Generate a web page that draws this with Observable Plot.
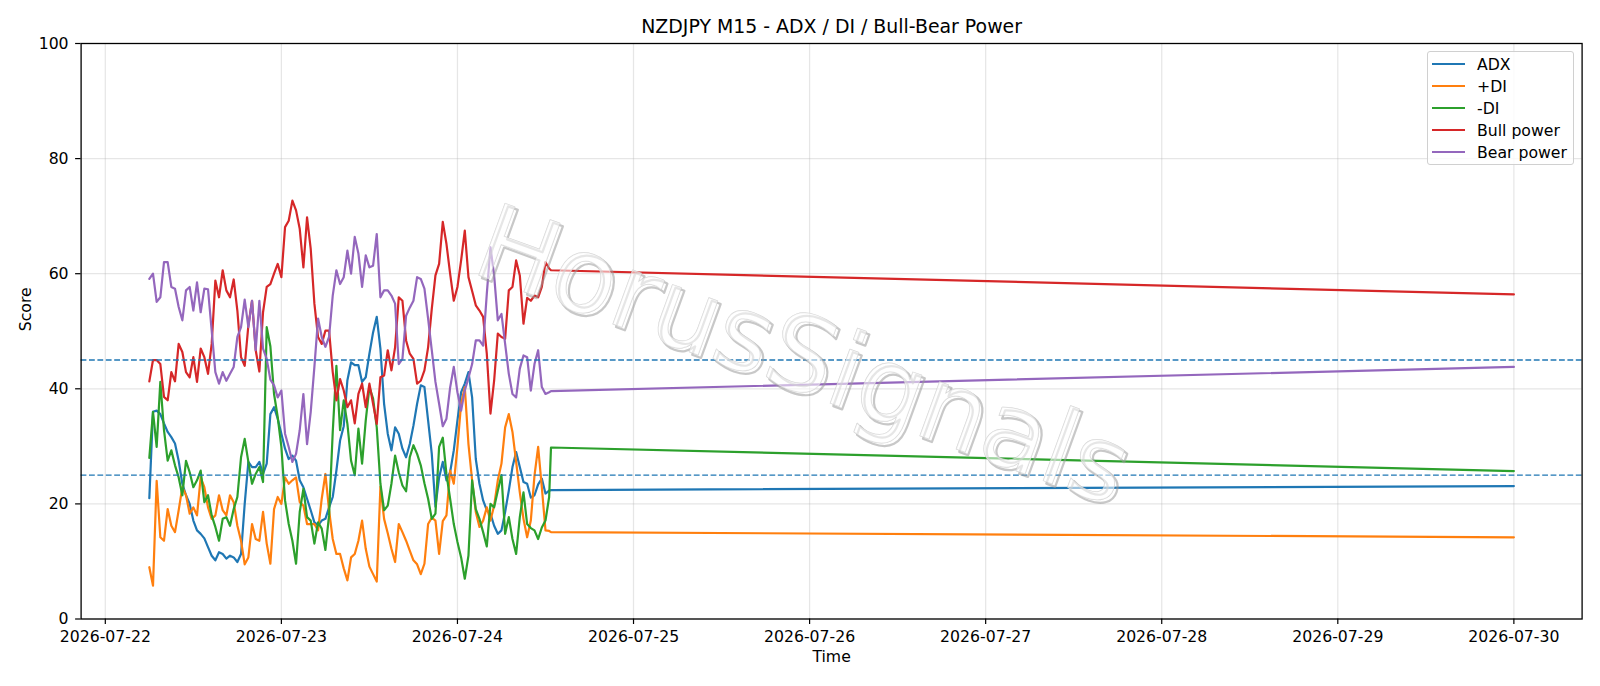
<!DOCTYPE html>
<html>
<head>
<meta charset="utf-8">
<script src="https://cdn.jsdelivr.net/npm/d3@7"></script>
<script src="https://cdn.jsdelivr.net/npm/@observablehq/plot@0.6"></script>
<style>
  body { margin: 0; background: #fff; }
  #wrap { position: relative; width: 1600px; height: 686px; font-family: "DejaVu Sans", sans-serif; }
  #legend { position: absolute; left: 1427px; top: 51px; width: 147px; height: 114px;
    border: 1px solid #d0d0d0; border-radius: 3px; background: rgba(255,255,255,0.8); box-sizing: border-box; }
  .lg-row { position: absolute; left: 0; height: 20px; display: flex; align-items: center; font-size: 15.7px; color: #000; }
  .lg-sw { width: 33px; height: 0; border-top: 2px solid; margin-left: 4px; margin-right: 12px; }
</style>
</head>
<body>
<div id="wrap"></div>
<script>
// ---- Data ----
const title = "NZDJPY M15 - ADX / DI / Bull-Bear Power";
const seriesNames = ["ADX", "+DI", "-DI", "Bull power", "Bear power"];
const seriesColors = ["#1f77b4", "#ff7f0e", "#2ca02c", "#d62728", "#9467bd"];
const levels = [45, 25];
const yTicks = [0, 20, 40, 60, 80, 100];
const xTickDays = ["2026-07-22","2026-07-23","2026-07-24","2026-07-25","2026-07-26","2026-07-27","2026-07-28","2026-07-29","2026-07-30"];

// sampling: every 30 minutes from 2026-07-22 06:00 to 2026-07-24 12:30, then two projected points
const denseStart = "2026-07-22T06:00:00Z";
const denseCount = 110;
const tailTimes = ["2026-07-24T12:45:00Z", "2026-07-30T00:00:00Z"];

const adx = [
  21, 36, 36.2, 35.6, 34, 32.5, 31.6, 30.5, 27.5, 23.5,
  21.5, 20, 17.1, 15.4, 14.8, 14, 12.5, 11, 10.2, 11.6,
  11.3, 10.5, 11, 10.7, 9.9, 11.3, 20, 27.3, 26.4, 26.4,
  27.3, 25.2, 27, 35.6, 36.8, 34.8, 32.2, 29.6, 27.8, 28.4,
  27.5, 24.1, 22.9, 20.9, 18.9, 16.8, 16.3, 17.1, 17.4, 19.4,
  21.2, 25.8, 31, 33.5, 41.5, 44.6, 44.1, 44.1, 41.2, 42,
  46.1, 49.8, 52.5, 47, 37.4, 32.2, 29.3, 33.3, 32.2, 29.6,
  28.1, 30.4, 33.6, 37.4, 40.6, 40.3, 34.5, 28.7, 19.5, 24.6,
  27.3, 24.1, 25.5, 29.3, 34.5, 39.4, 40.9, 42.9, 38.5, 27.8,
  23.5, 20.6, 18.9, 18.3, 16.2, 14.8, 15.4, 18.6, 22.3, 26.4,
  29, 26.4, 23.8, 23.5, 21.1, 21.5, 23.4, 24.4, 21.8, 22.3,
  22.4, 23.1
];
const plusDI = [
  9, 5.8, 24, 14.2, 13.6, 19.1, 16.2, 15.1, 18.9, 22.9,
  21.5, 18.3, 19.4, 18, 24.6, 22.9, 19.4, 17.4, 18, 21.5,
  18.9, 18, 21.5, 20.3, 16.2, 13.6, 9.5, 10.7, 16.5, 13.9,
  13.6, 18.6, 13.1, 9.6, 19.1, 21.2, 20, 24.6, 23.5, 24.1,
  24.6, 20.3, 19.7, 16.5, 16.5, 16.5, 15.4, 20.9, 25.2, 18.9,
  13.9, 11.3, 11.3, 8.8, 6.7, 10.7, 11.3, 13.6, 17.1, 12.2,
  9.1, 7.8, 6.5, 23, 17.4, 14.9, 12.2, 9.9, 16.5, 15.1,
  13.6, 11.9, 10.2, 9.5, 7.8, 9.6, 16.5, 17.6, 17.1, 11.3,
  17, 18, 25.8, 23.5, 29.9, 37.4, 40.3, 30.4, 24.1, 18.6,
  16, 17.1, 19.4, 17.1, 19.7, 24.1, 27, 33.3, 35.6, 32.5,
  27.3, 22, 17.4, 14.2, 17.1, 24.9, 29.9, 22.9, 15.4, 15.3,
  15.1, 14.2
];
const minusDI = [
  28, 36, 29.9, 41.2, 32.8, 27.5, 29.3, 26.7, 24.6, 21.5,
  27.5, 25.5, 22.9, 24.1, 25.8, 20.3, 21.5, 18, 16, 13.6,
  17.4, 17.7, 16.2, 19.1, 21.2, 28.1, 31.3, 27.3, 23.5, 25.2,
  26.4, 23.8, 50.7, 47.4, 39.1, 35.1, 29.9, 20.6, 16.5, 13.6,
  9.6, 18.6, 22.6, 17.7, 17.1, 13.1, 16.8, 15.7, 12, 18,
  32.5, 44, 32.8, 38, 33.9, 27.5, 25, 33.1, 27, 34.5,
  40.3, 38.3, 33.3, 23.5, 18.9, 19.7, 23.5, 28.4, 25.5, 23.2,
  22.2, 28.1, 30.2, 28.7, 26.7, 23.6, 20.9, 17.4, 18.3, 29.9,
  31.5, 25.2, 20.9, 16.5, 13.4, 10.7, 7, 11, 24.1, 19.1,
  17.4, 15.1, 12.6, 20, 19.4, 22.3, 25, 14.8, 17.7, 13.9,
  11.3, 17.7, 22, 16.5, 15.8, 15.4, 13.9, 15.9, 17.1, 21.2,
  29.8, 25.7
];
const bullPower = [
  41.3, 45, 45, 44.3, 38.6, 38, 42.9, 41.3, 47.8, 46.4,
  42.9, 42, 45.5, 41.2, 47, 45.5, 42.6, 47.8, 58.8, 55.9,
  60.6, 57.1, 55.9, 59, 53.6, 45.5, 44, 51, 55.3, 46.7,
  43, 53.3, 57.7, 58.2, 60, 61.7, 59.4, 68.1, 69.2, 72.7,
  71, 67.8, 61.1, 69.8, 64.3, 54.8, 49, 47.8, 50.1, 50.1,
  42.9, 38, 41.7, 39.7, 36.8, 38, 34, 39.1, 40.9, 36.8,
  40.9, 37.4, 33.9, 42, 42.3, 46.7, 43.2, 47.2, 55.9, 55.3,
  48.4, 46.1, 45.2, 40.9, 41.4, 43.2, 47.2, 53.9, 59.7, 61.7,
  69, 65.2, 60, 55.3, 57.7, 62.3, 67.5, 59.4, 57, 54.5,
  53.6, 52.5, 46.1, 35.7, 41.4, 49.6, 49, 48.7, 57.1, 57.7,
  62.3, 59.7, 51.3, 55.8, 55.3, 56.2, 55.9, 57.7, 62, 60.9,
  60.6, 56.4
];
const bearPower = [
  59.1, 60, 55.1, 55.9, 62, 62, 57.7, 57.4, 54.2, 51.9,
  57.1, 57.7, 53.6, 58.5, 53.3, 57.4, 57.3, 50.1, 42.9, 40.9,
  42.9, 41.4, 42.6, 43.8, 49, 50.7, 55.5, 50.7, 55.3, 46.7,
  55.3, 47, 45.2, 41.6, 40.6, 38.5, 39.7, 32.2, 29.9, 27.3,
  28.7, 32.8, 39.1, 30.4, 36, 43.8, 52.2, 49, 47.3, 49,
  56.2, 60.6, 58.2, 59.4, 64, 60, 66.4, 63.5, 57.7, 63.2,
  61.1, 61.4, 66.9, 55.9, 57.1, 57.1, 56.2, 54.8, 44.3, 45.2,
  52.7, 54.1, 55.3, 59.4, 59.1, 57.4, 52.2, 46.7, 41.2, 37.4,
  33.5, 34.8, 40.2, 43.8, 39.4, 36.2, 39.7, 41.9, 44.3, 48.4,
  48.4, 47.5, 56.5, 64.6, 59.7, 51.9, 53, 47.8, 42.6, 39.1,
  38.5, 43.5, 45.8, 45.5, 39.7, 44.3, 46.7, 40.3, 39.1, 39.4,
  39.6, 43.8
];

// ---- Build table ----
const t0 = new Date(denseStart);
const times = d3.range(denseCount).map(i => d3.utcMinute.offset(t0, 30 * i))
  .concat(tailTimes.map(s => new Date(s)));
const allSeries = [adx, plusDI, minusDI, bullPower, bearPower];
const rows = [];
allSeries.forEach((vals, k) => {
  vals.forEach((v, i) => rows.push({ time: times[i], value: v, series: seriesNames[k] }));
});

const tFirst = times[0], tLast = times[times.length - 1];
const pad = (tLast - tFirst) * 0.05;
const xDomain = [new Date(+tFirst - pad), new Date(+tLast + pad)];
const xTicks = xTickDays.map(s => new Date(s + "T00:00:00Z"));
const fmt = d3.utcFormat("%Y-%m-%d");

const chart = Plot.plot({
  width: 1600,
  height: 686,
  marginLeft: 80.6,
  marginRight: 18.4,
  marginTop: 43,
  marginBottom: 67.5,
  style: { fontFamily: "DejaVu Sans, sans-serif", fontSize: "15.7px", background: "#fff", color: "#000", overflow: "visible" },
  x: { type: "utc", domain: xDomain },
  y: { domain: [0, 100] },
  color: { domain: seriesNames, range: seriesColors },
  marks: [
    Plot.gridX(xTicks, { stroke: "#b0b0b0", strokeOpacity: 0.32, strokeWidth: 1.2 }),
    Plot.gridY(yTicks, { stroke: "#b0b0b0", strokeOpacity: 0.32, strokeWidth: 1.2 }),
    Plot.line(rows, { x: "time", y: "value", z: "series", stroke: "series", strokeWidth: 2.2, strokeLinejoin: "round", curve: "linear" }),
    Plot.ruleY(levels, { stroke: "#1f77b4", strokeWidth: 1.4, strokeDasharray: "5.8,2.6" }),
    // watermark: grey shadow + light outlined text on top
    Plot.text(["HorusSignals"], { frameAnchor: "middle", dx: -26, dy: 29, rotate: 20, fontSize: 105, fill: "none", stroke: "#9a9a9a", strokeOpacity: 0.55, strokeWidth: 2.2, text: d => d }),
    Plot.text(["HorusSignals"], { frameAnchor: "middle", dx: -29, dy: 26, rotate: 20, fontSize: 105, fill: "#ffffff", fillOpacity: 0.55, stroke: "#c8c8c8", strokeOpacity: 0.8, strokeWidth: 1, text: d => d }),
    Plot.axisX(xTicks, { tickFormat: fmt, tickSize: 5.5, tickPadding: 6, strokeWidth: 1.2, label: null, fontSize: 15.7 }),
    Plot.axisY(yTicks, { tickSize: 5.5, tickPadding: 7, strokeWidth: 1.2, label: null, fontSize: 15.7 }),
    Plot.frame({ stroke: "#000", strokeWidth: 1.3 }),
    Plot.text([title], { frameAnchor: "top", dy: -17, fontSize: 18.9, lineAnchor: "middle", fill: "#000", text: d => d }),
    Plot.text(["Score"], { frameAnchor: "left", dx: -55, rotate: -90, fontSize: 15.7, lineAnchor: "middle", fill: "#000", text: d => d }),
    Plot.text(["Time"], { frameAnchor: "bottom", dy: 37.5, fontSize: 15.7, lineAnchor: "middle", fill: "#000", text: d => d })
  ]
});

const wrap = document.getElementById("wrap");
wrap.appendChild(chart);

// legend (matplotlib style, upper right)
const legend = document.createElement("div");
legend.id = "legend";
seriesNames.forEach((name, i) => {
  const row = document.createElement("div");
  row.className = "lg-row";
  row.style.top = Math.round(2 + 22.1 * i) + "px";
  const sw = document.createElement("div");
  sw.className = "lg-sw";
  sw.style.borderTopColor = seriesColors[i];
  const lab = document.createElement("span");
  lab.textContent = name;
  row.appendChild(sw);
  row.appendChild(lab);
  legend.appendChild(row);
});
wrap.appendChild(legend);
</script>
</body>
</html>
